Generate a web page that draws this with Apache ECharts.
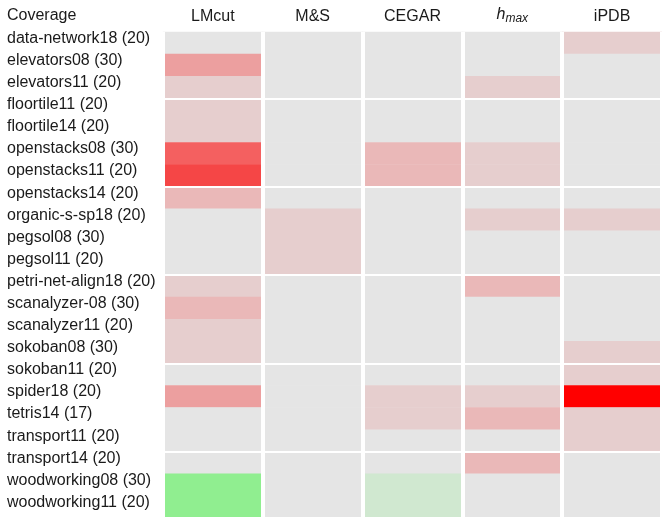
<!DOCTYPE html>
<html>
<head>
<meta charset="utf-8">
<script src="https://cdn.jsdelivr.net/npm/echarts@6/dist/echarts.min.js"></script>
<style>
  html, body { margin: 0; padding: 0; background: #fff; }
  #chart { width: 662px; height: 518px; }
</style>
</head>
<body>
<div id="chart"></div>
<script>
// domains (rows, top to bottom)
const domains = [
  'data-network18 (20)', 'elevators08 (30)', 'elevators11 (20)', 'floortile11 (20)',
  'floortile14 (20)', 'openstacks08 (30)', 'openstacks11 (20)', 'openstacks14 (20)',
  'organic-s-sp18 (20)', 'pegsol08 (30)', 'pegsol11 (20)', 'petri-net-align18 (20)',
  'scanalyzer-08 (30)', 'scanalyzer11 (20)', 'sokoban08 (30)', 'sokoban11 (20)',
  'spider18 (20)', 'tetris14 (17)', 'transport11 (20)', 'transport14 (20)',
  'woodworking08 (30)', 'woodworking11 (20)'
];
// heuristics (columns)
const methods = ['LMcut', 'M&S', 'CEGAR', 'hmax', 'iPDB'];

// coverage difference per heuristic, one value per domain
const lmcut = [0, -3, -1, -1, -1, -6, -7, -2, 0, 0, 0, -1, -2, -1, -1, 0, -3, 0, 0, 0, 4, 4];
const mas   = [0, 0, 0, 0, 0, 0, 0, 0, -1, -1, -1, 0, 0, 0, 0, 0, 0, 0, 0, 0, 0, 0];
const cegar = [0, 0, 0, 0, 0, -2, -2, 0, 0, 0, 0, 0, 0, 0, 0, 0, -1, -1, 0, 0, 1, 1];
const hmax  = [0, 0, -1, 0, 0, -1, -1, 0, -1, 0, 0, -2, 0, 0, 0, 0, -1, -2, 0, -2, 0, 0];
const ipdb  = [-1, 0, 0, 0, 0, 0, 0, 0, -1, 0, 0, 0, 0, 0, -1, -1, -10, -1, -1, 0, 0, 0];

// rows after which a white separator is drawn
const groupStarts = [3, 7, 11, 15, 19];

const columns = [lmcut, mas, cegar, hmax, ipdb];
const cells = [];
columns.forEach((col, x) => {
  col.forEach((v, y) => cells.push([x, y, v]));
});

const chart = echarts.init(document.getElementById('chart'));
const font = '"Liberation Sans", Arial, sans-serif';

chart.setOption({
  animation: false,
  textStyle: { fontFamily: font },
  title: {
    text: 'Coverage',
    left: 7,
    top: 8,
    padding: 0,
    textStyle: { fontSize: 16, fontWeight: 'normal', color: '#1a1a1a', fontFamily: font }
  },
  // grid runs a little past the right edge so the last column is cut like the original
  grid: { left: 163, right: -4, top: 32, height: 489 },
  xAxis: {
    type: 'category',
    position: 'top',
    data: methods,
    z: 10,
    axisLine: { show: false },
    axisTick: { show: false },
    axisLabel: {
      interval: 0,
      margin: 7,
      fontSize: 16,
      color: '#1a1a1a',
      formatter: v => (v === 'hmax' ? '{h|h}{s|max}' : v),
      rich: {
        h: { fontSize: 16, fontStyle: 'italic', color: '#1a1a1a', fontFamily: font },
        s: { fontSize: 12, fontStyle: 'italic', color: '#1a1a1a', fontFamily: font, padding: [8, 0, 0, 0] }
      }
    },
    splitLine: { show: true, interval: 0, lineStyle: { color: '#fff', width: 4 } }
  },
  yAxis: {
    type: 'category',
    inverse: true,
    data: domains,
    z: 10,
    axisLine: { show: false },
    axisTick: { show: false },
    axisLabel: {
      interval: 0,
      margin: 156,
      align: 'left',
      verticalAlign: 'bottom',
      lineHeight: 9,
      fontSize: 16,
      color: '#1a1a1a'
    },
    splitLine: {
      show: true,
      interval: (idx) => groupStarts.indexOf(idx) >= 0,
      lineStyle: { color: '#fff', width: 2 }
    }
  },
  visualMap: {
    show: false,
    type: 'piecewise',
    dimension: 2,
    pieces: [
      { value: -10, color: '#ff0000' },
      { value: -7, color: '#f54646' },
      { value: -6, color: '#f46060' },
      { value: -3, color: '#ec9f9f' },
      { value: -2, color: '#eab8b8' },
      { value: -1, color: '#e6cece' },
      { value: 0, color: '#e5e5e5' },
      { value: 1, color: '#d0e8d0' },
      { value: 4, color: '#90ee90' }
    ]
  },
  series: [{
    type: 'heatmap',
    data: cells,
    progressive: 0,
    emphasis: { disabled: true },
    label: { show: false }
  }]
});
</script>
</body>
</html>
